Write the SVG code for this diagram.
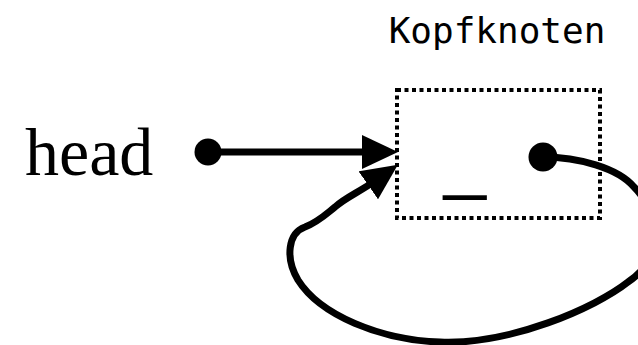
<svg xmlns="http://www.w3.org/2000/svg" width="638" height="345" viewBox="0 0 638 345">
<style>
.lbl{font-family:"Liberation Serif","Times New Roman",serif;fill:#000}
.mono{font-family:"DejaVu Sans Mono","Liberation Mono",monospace;fill:#000}
.edge{fill:none;stroke:#000;stroke-width:7;stroke-linecap:round}
.box{fill:none;stroke:#000;stroke-width:4;stroke-dasharray:4 3.5}
</style>
<defs>
<marker id="arr" viewBox="0 -17 36 34" refX="3" refY="0" markerWidth="36" markerHeight="34" markerUnits="userSpaceOnUse" orient="auto">
<path d="M0,-17 L36,0 L0,17 z" fill="#000"/>
</marker>
</defs>
<rect width="638" height="345" fill="#fff"/>
<g id="head">
<text class="lbl" x="25" y="175" font-size="68">head</text>
<circle cx="208" cy="152" r="13.5" fill="#000"/>
</g>
<g id="kopfknoten">
<text class="mono" x="497" y="43" font-size="36" text-anchor="middle">Kopfknoten</text>
<rect class="box" x="397" y="90" width="203" height="128"/>
<text class="lbl" x="465" y="185" font-size="76" text-anchor="middle" style="font-family:'Liberation Sans',Arial,sans-serif">_</text>
<circle cx="543" cy="157" r="14.5" fill="#000"/>
</g>
<g id="connectors">
<path class="edge" d="M208,152 L365,152" marker-end="url(#arr)"/>
<path class="edge" d="M543,157 C578,157 618,168 634,187 C662,215 662,260 628,282 C595,308 510,345 440,342 C380,340 320,315 298,280 C285,258 288,233 305,227 C318,222 325,215 335,207 C345,198 358,192.5 370.8,183.6" marker-end="url(#arr)"/>
</g>
</svg>
